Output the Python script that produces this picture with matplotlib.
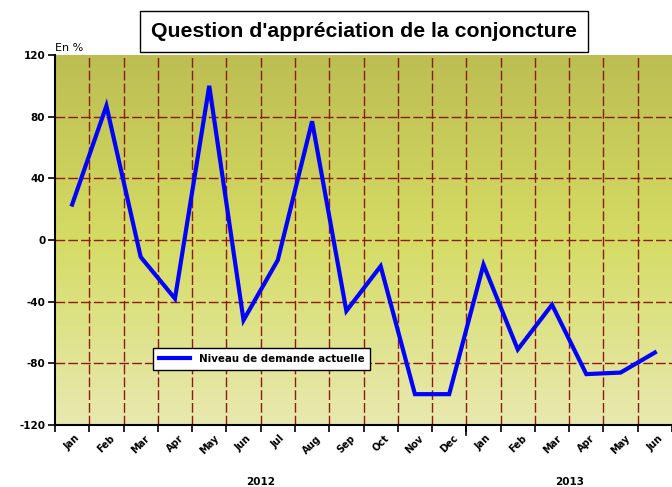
import matplotlib.pyplot as plt
import numpy as np
from matplotlib.colors import LinearSegmentedColormap
from matplotlib.transforms import blended_transform_factory, ScaledTranslation

months = ["Jan", "Feb", "Mar", "Apr", "May", "Jun", "Jul", "Aug", "Sep", "Oct", "Nov", "Dec",
          "Jan", "Feb", "Mar", "Apr", "May", "Jun"]
years = ["2012", "2013"]
year_centers = [5.5, 14.5]
demande = [23, 87, -11, -38, 100, -52, -13, 77, -46, -17, -100, -100,
           -16, -71, -42, -87, -86, -73]
yticks = [-120, -80, -40, 0, 40, 80, 120]

GRID = "#8e1a10"
LINE = "#0000ff"

fig = plt.figure(figsize=(6.72, 4.87), dpi=100)
ax = fig.add_axes([55 / 672, 62 / 487, 617 / 672, 370 / 487])

# gradient background, olive at top to pale at bottom
cmap = LinearSegmentedColormap.from_list("bg", ["#e8e9b0", "#d5dc64", "#bcbe52"])
grad = np.linspace(0, 1, 256).reshape(-1, 1)
ax.imshow(grad, cmap=cmap, origin="lower", extent=[0, 1, 0, 1],
          transform=ax.transAxes, aspect="auto", zorder=0)

x = np.arange(len(months))
ax.set_xlim(-0.5, len(months) - 0.5)
ax.set_ylim(-120, 120)

for yv in yticks[1:-1]:
    ax.axhline(yv, color=GRID, lw=1.0, dashes=(7, 2.2), zorder=1)
for xb in np.arange(0.5, len(months) - 0.5):
    ax.axvline(xb, color=GRID, lw=1.0, dashes=(7, 2.2), zorder=1)

ax.plot(x, demande, color=LINE, lw=3, solid_joinstyle="miter",
        label="Niveau de demande actuelle", zorder=3)

ax.set_yticks(yticks)
ax.set_yticklabels([str(v) for v in yticks], fontsize=7.5, fontweight="bold")
ax.set_xticks(np.arange(-0.5, len(months)))
ax.set_xticklabels([])
ax.set_xticks(x, minor=True)
ax.set_xticklabels(months, minor=True, rotation=45, ha="center",
                   fontsize=7, fontweight="bold")
shift = ScaledTranslation(-6 / 100, 0, fig.dpi_scale_trans)
for lab in ax.get_xticklabels(minor=True):
    lab.set_transform(lab.get_transform() + shift)
ax.tick_params(axis="x", which="minor", length=0, pad=6)
ax.tick_params(axis="x", which="major", length=5, width=1.2)
ax.tick_params(axis="y", length=5, width=1.2, pad=2)

# longer tick between the two years
ax.axvline(11.5, ymin=-0.027, ymax=0, color="black", lw=1.2, clip_on=False)

for s in ["left", "bottom"]:
    ax.spines[s].set_linewidth(1.5)
for s in ["top", "right"]:
    ax.spines[s].set_visible(False)

trans = blended_transform_factory(ax.transData, ax.transAxes)
for yr, xc in zip(years, year_centers):
    ax.text(xc, -0.155, yr, transform=trans, ha="center", va="center",
            fontsize=7.5, fontweight="bold")

ax.text(0.0, 1.005, "En %", transform=ax.transAxes, ha="left", va="bottom", fontsize=8)

fig.text(364 / 672, 1 - 31.5 / 487, "Question d'appréciation de la conjoncture",
         ha="center", va="center", fontsize=15.3, fontweight="bold",
         family="Liberation Sans",
         bbox=dict(boxstyle="square,pad=0.5", fc="white", ec="black", lw=1))

leg = ax.legend(loc="lower left", bbox_to_anchor=(0.151, 0.135),
                frameon=True, fancybox=False, handlelength=3, borderpad=0.6,
                prop={"weight": "bold", "size": 7.4})
leg.get_frame().set_edgecolor("black")
leg.get_frame().set_linewidth(1)
leg.get_frame().set_alpha(1)

fig.savefig("out.png", dpi=100)
